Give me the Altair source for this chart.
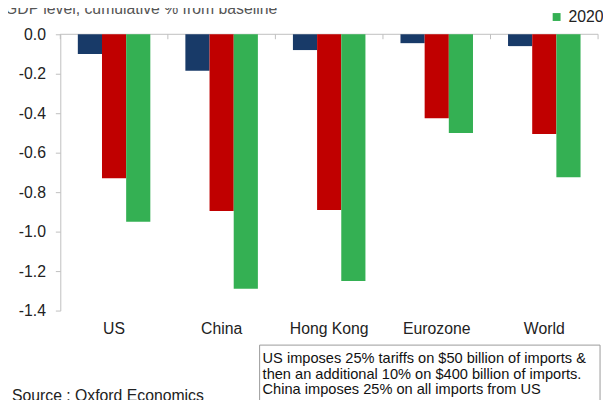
import altair as alt
import pandas as pd

countries = ["US", "China", "Hong Kong", "Eurozone", "World"]
years = ["2018", "2019", "2020"]
v2018 = [-0.10, -0.185, -0.08, -0.045, -0.06]
v2019 = [-0.73, -0.895, -0.89, -0.425, -0.505]
v2020 = [-0.95, -1.29, -1.25, -0.50, -0.725]
colors = ["#183A68", "#C00000", "#34B053"]
y_ticks = [0.0, -0.2, -0.4, -0.6, -0.8, -1.0, -1.2, -1.4]

title_text = "GDP level, cumulative % from baseline"
note_lines = [
    "US imposes 25% tariffs on $50 billion of imports &",
    "then an additional 10% on $400 billion of imports.",
    "China imposes 25% on all imports from US",
]
source_text = "Source : Oxford Economics"

rows = []
for i, c in enumerate(countries):
    for y, vals in zip(years, [v2018, v2019, v2020]):
        rows.append({"country": c, "year": y, "value": vals[i]})
df = pd.DataFrame(rows)
cats = pd.DataFrame({"country": countries})

FONT = "Liberation Sans"
W, H = 545, 280
GREY = "#BFBFBF"

xscale = alt.Scale(domain=countries, paddingInner=0, paddingOuter=0)
yscale = alt.Scale(domain=[-1.4, 0], nice=False)

xaxis = alt.Axis(title=None, orient="bottom", domain=False, ticks=False,
                 labelFontSize=16, labelFont=FONT, labelColor="#222222",
                 labelPadding=10, labelAngle=0)
yaxis = alt.Axis(title=None, values=y_ticks, grid=False,
                 domainColor=GREY, tickColor=GREY, tickSize=5,
                 labelFontSize=16, labelFont=FONT, labelColor="#222222",
                 labelPadding=10, labelOverlap=False, labelBound=False,
                 labelFlush=False,
                 labelExpr="replace(format(datum.value, '.1f'), '\u2212', '-')")

bars = alt.Chart(df).mark_bar(strokeWidth=0).encode(
    x=alt.X("country:N", sort=countries, scale=xscale, axis=xaxis),
    xOffset=alt.XOffset("year:N", sort=years,
                        scale=alt.Scale(paddingOuter=0.725, paddingInner=0)),
    y=alt.Y("value:Q", scale=yscale, axis=yaxis),
    color=alt.Color("year:N", sort=years,
                    scale=alt.Scale(domain=years, range=colors),
                    legend=alt.Legend(title=None, orient="none", legendX=495, legendY=-61.5,
                                      direction="vertical", symbolType="square",
                                      symbolSize=64, symbolStrokeWidth=0,
                                      labelFontSize=16, labelFont=FONT,
                                      labelColor="#222222", labelOffset=4,
                                      rowPadding=2, padding=0)),
)

zero_line = alt.Chart(cats).transform_filter(
    alt.datum.country == countries[0]
).mark_rule(color=GREY, strokeWidth=1).encode(
    y=alt.datum(0, scale=yscale, axis=yaxis)
)

ticks_top = alt.Chart(cats).mark_rule(color=GREY, strokeWidth=1).encode(
    x=alt.X("country:N", sort=countries, scale=xscale, bandPosition=0, axis=xaxis),
    y=alt.value(0), y2=alt.value(5),
)
ticks_end = alt.Chart(cats).transform_filter(
    alt.datum.country == countries[-1]
).mark_rule(color=GREY, strokeWidth=1).encode(
    x=alt.X("country:N", sort=countries, scale=xscale, bandPosition=1, axis=xaxis),
    y=alt.value(0), y2=alt.value(5),
)

one = alt.Chart(cats).transform_filter(alt.datum.country == countries[0])

title = one.mark_text(
    text=title_text, font=FONT, fontSize=16, color="#555555", align="left",
    baseline="alphabetic"
).encode(x=alt.value(-56), y=alt.value(-21))

box = one.mark_rect(
    fill="white", stroke="#999999", strokeWidth=1
).encode(x=alt.value(202), x2=alt.value(547), y=alt.value(315), y2=alt.value(380))

note = one.mark_text(
    text=note_lines, font=FONT, fontSize=14.8, color="#111111", align="left",
    baseline="alphabetic", lineHeight=16
).encode(x=alt.value(205), y=alt.value(333))

source = one.mark_text(
    text=source_text, font=FONT, fontSize=16, color="#222222", align="left",
    baseline="alphabetic"
).encode(x=alt.value(-49), y=alt.value(372))

chart = alt.layer(zero_line, bars, ticks_top, ticks_end, title, box, note, source).properties(
    width=W, height=H,
    autosize=alt.AutoSizeParams(type="none"),
    padding={"left": 53, "top": 24, "right": 5, "bottom": 88},
).configure_view(stroke=None)

chart.save("out.html", embed_options={"renderer": "svg", "actions": False})
